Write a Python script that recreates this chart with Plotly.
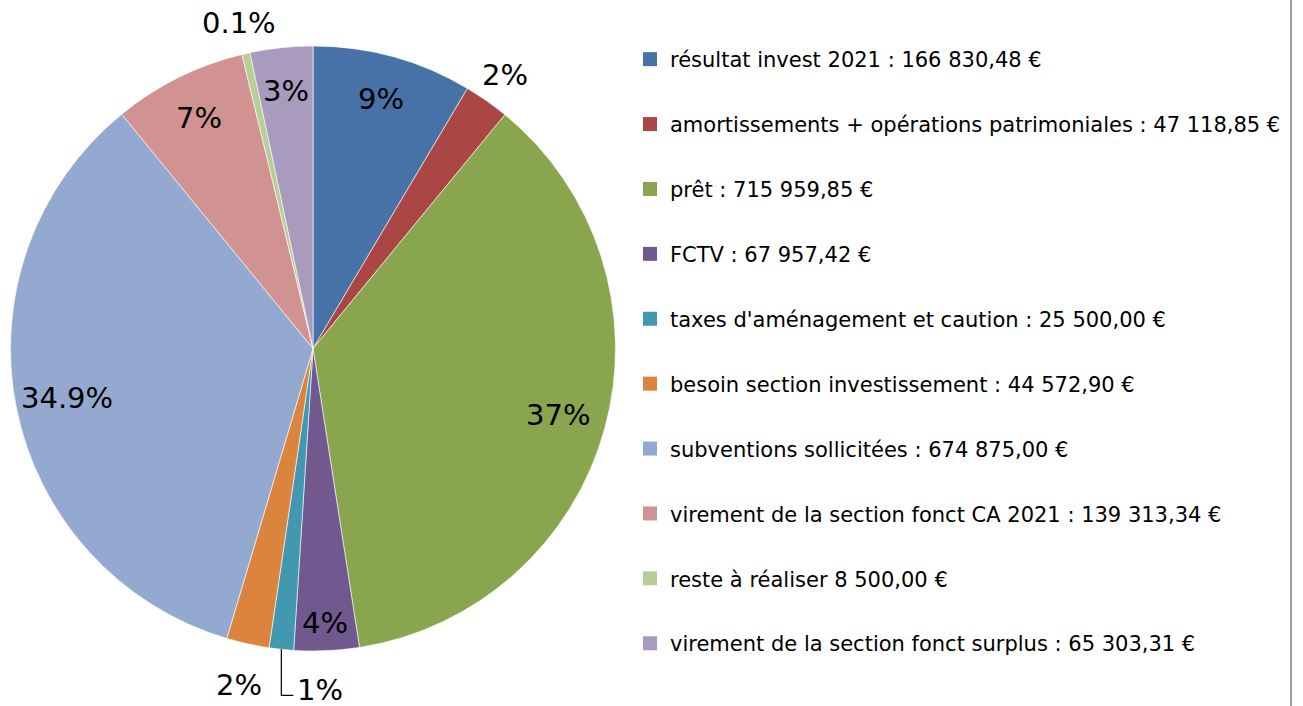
import math
import plotly.graph_objects as go

# ---- data ----
categories = [
    "résultat invest 2021 : 166 830,48 €",
    "amortissements + opérations patrimoniales : 47 118,85 €",
    "prêt : 715 959,85 €",
    "FCTV : 67 957,42 €",
    "taxes d'aménagement et caution : 25 500,00 €",
    "besoin section investissement : 44 572,90 €",
    "subventions sollicitées : 674 875,00 €",
    "virement de la section fonct CA 2021 : 139 313,34 €",
    "reste à réaliser 8 500,00 €",
    "virement de la section fonct surplus : 65 303,31 €",
]
values = [166830.48, 47118.85, 715959.85, 67957.42, 25500.00,
          44572.90, 674875.00, 139313.34, 8500.00, 65303.31]
pct_labels = ["9%", "2%", "37%", "4%", "1%", "2%", "34.9%", "7%", "0.1%", "3%"]

colors = ["#4672A8", "#AA4644", "#89A54E", "#71598F", "#4198AF",
          "#DB843D", "#93A9D0", "#D19392", "#B9CD97", "#A99BBD"]

# ---- layout constants ----
W, H = 1303, 706
CX, CY, R = 313, 348.5, 302.5
FONT = "'DejaVu Sans', sans-serif"
# radial placement factor of each label (fraction of radius)
label_r = [0.855, 1.105, 0.84, 0.91, 1.0, 1.14, 0.83, 0.85, 1.105, 0.855]

fig = go.Figure()
fig.add_trace(go.Pie(
    labels=categories, values=values, sort=False, direction="clockwise",
    rotation=0, textinfo="none", hoverinfo="label+percent",
    marker=dict(colors=colors, line=dict(color="white", width=0.6)),
    showlegend=False,
    domain=dict(x=[(CX - R) / W, (CX + R) / W],
                y=[1 - (CY + R) / H, 1 - (CY - R) / H]),
))

# legend through dummy traces (one group each so spacing can be set)
for i, (cat, col) in enumerate(zip(categories, colors)):
    fig.add_trace(go.Scatter(
        x=[None], y=[None], mode="markers", name=cat,
        marker=dict(symbol="square", size=14, color=col),
        legendgroup=f"g{i}", showlegend=True,
    ))

def px2paper(x, y):
    return x / W, 1 - y / H

total = sum(values)
cum = 0
annotations = []
shapes = []
for i, v in enumerate(values):
    mid = (cum + v / 2) / total * 2 * math.pi
    cum += v
    f = label_r[i]
    if i == 4:
        # leader line with elbow for the small slice
        ex = CX + R * math.sin(mid)
        ey = CY - R * math.cos(mid)
        x0, y0 = px2paper(ex, ey)
        x1, y1 = px2paper(ex, ey + 46)
        x2, y2 = px2paper(ex + 12, ey + 46)
        shapes.append(dict(type="path", xref="paper", yref="paper",
                           path=f"M {x0} {y0} L {x1} {y1} L {x2} {y2}",
                           line=dict(color="black", width=1.2)))
        tx, ty = px2paper(ex + 14, ey + 41)
        annotations.append(dict(x=tx, y=ty, xref="paper", yref="paper",
                                text=pct_labels[i], showarrow=False,
                                xanchor="left", yanchor="middle",
                                font=dict(size=29, color="black", family=FONT)))
        continue
    lx = CX + R * f * math.sin(mid)
    ly = CY - R * f * math.cos(mid)
    tx, ty = px2paper(lx, ly)
    annotations.append(dict(x=tx, y=ty, xref="paper", yref="paper",
                            text=pct_labels[i], showarrow=False,
                            xanchor="center", yanchor="middle",
                            font=dict(size=29, color="black", family=FONT)))

# right border line
shapes.append(dict(type="line", xref="paper", yref="paper",
                   x0=1291 / W, x1=1291 / W, y0=0, y1=1,
                   line=dict(color="#A0A0A0", width=2)))

fig.update_layout(
    width=W, height=H, margin=dict(l=0, r=0, t=0, b=0),
    paper_bgcolor="white", plot_bgcolor="white",
    xaxis=dict(visible=False), yaxis=dict(visible=False),
    annotations=annotations, shapes=shapes,
    legend=dict(x=630 / W, y=1 - 39 / H, xanchor="left", yanchor="top",
                font=dict(size=21, color="black", family=FONT),
                tracegroupgap=34.6, bgcolor="rgba(0,0,0,0)",
                itemclick=False, itemdoubleclick=False),
    showlegend=True,
)

fig.write_html("out.html")
